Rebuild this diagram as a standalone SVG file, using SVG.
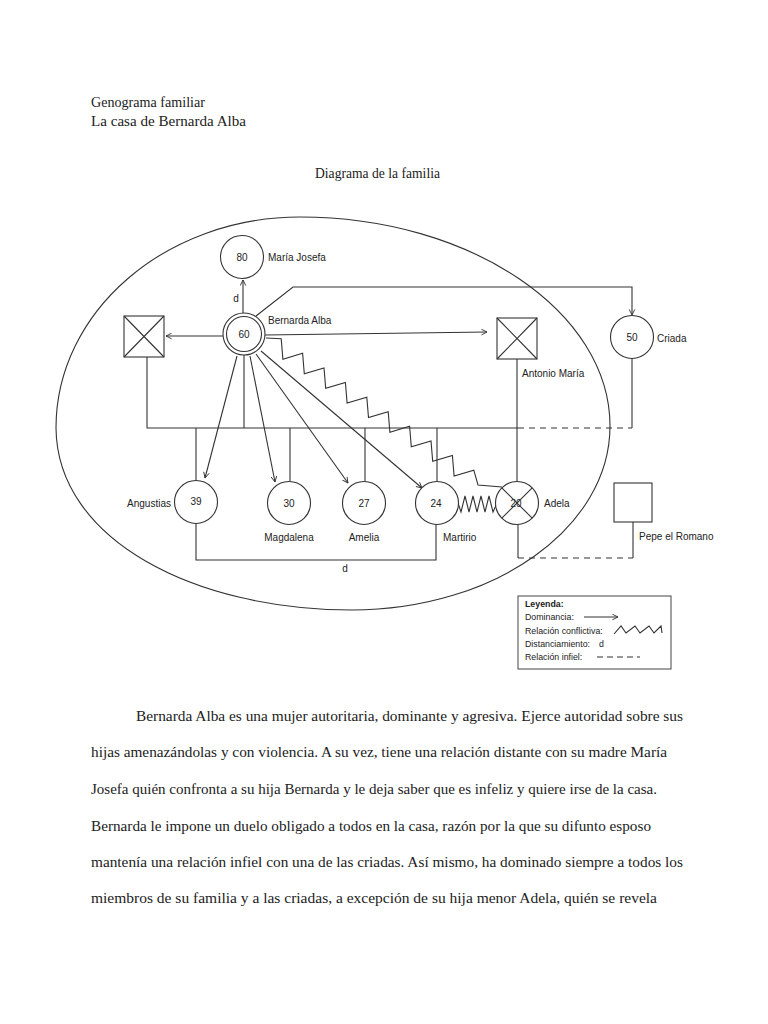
<svg xmlns="http://www.w3.org/2000/svg" width="768" height="1024" viewBox="0 0 768 1024">
<style>
.ln{fill:none;stroke:#333;stroke-width:1.1}
.dash{fill:none;stroke:#333;stroke-width:1.1;stroke-dasharray:6,5}
.nd{fill:#fff;stroke:#333;stroke-width:1.1}
.lbl{font-family:"Liberation Sans",Arial,sans-serif;font-size:10px;fill:#222}
.num{font-family:"Liberation Sans",Arial,sans-serif;font-size:10px;fill:#222;text-anchor:middle}
.doc{font-family:"Liberation Serif","Times New Roman",serif;font-size:15px;fill:#222}
.lg{font-family:"Liberation Sans",Arial,sans-serif;font-size:8.8px;fill:#222}
</style>
<defs>
<marker id="ah" viewBox="0 0 10 10" refX="9" refY="5" markerWidth="7" markerHeight="7" orient="auto" markerUnits="userSpaceOnUse">
<path d="M1,1 L9,5 L1,9" fill="none" stroke="#333" stroke-width="1.3"/>
</marker>
</defs>
<rect width="768" height="1024" fill="#fff"/>
<g id="header">
<text class="doc" x="91" y="107" textLength="114" lengthAdjust="spacingAndGlyphs">Genograma familiar</text>
<text class="doc" x="91" y="126" textLength="155" lengthAdjust="spacingAndGlyphs">La casa de Bernarda Alba</text>
<text class="doc" x="315" y="178" textLength="125" lengthAdjust="spacingAndGlyphs">Diagrama de la familia</text>
</g>
<g id="household">
<path class="ln" stroke-width="1.2" d="M56,428 C56,312 165,217 300,217 C471,217 610,312 610,426 C610,528 494,610 352,610 C195,610 57,540 56,428 Z"/>
</g>
<g id="connectors">
<path class="ln" d="M147,357 V428 H518"/>
<path class="dash" d="M518,428 H632"/>
<path class="ln" d="M632,428 V359"/>
<path class="ln" d="M244,355 V428"/>
<path class="ln" d="M517,359 V481"/>
<path class="ln" d="M196,428 V481 M290,428 V481 M365,428 V481 M437,428 V481"/>
<path class="ln" d="M196,523 V560 H436 V523"/>
<path class="ln" d="M518,524 V558"/>
<path class="dash" d="M518,558 H633"/>
<path class="ln" d="M633,522 V558"/>
<path class="ln" d="M243,313 V280" marker-end="url(#ah)"/>
<path class="ln" d="M223,336 H166" marker-end="url(#ah)"/>
<path class="ln" d="M265,335 L487,332" marker-end="url(#ah)"/>
<path class="ln" d="M256,316 L293,287 H632 V315" marker-end="url(#ah)"/>
<path class="ln" d="M237,356 L205,478" marker-end="url(#ah)"/>
<path class="ln" d="M250,356 L275,482" marker-end="url(#ah)"/>
<path class="ln" d="M256,354 L348,483" marker-end="url(#ah)"/>
<path class="ln" d="M261,351 L422,488" marker-end="url(#ah)"/>
<polyline class="ln" points="266,338 281.2,338.7 282.9,359.2 302.6,353.3 304.3,373.8 324,367.9 325.7,388.4 345.4,382.5 347.1,403 366.8,397.1 368.5,417.6 388.2,411.7 389.9,432.2 409.6,426.3 411.3,446.8 431,440.9 432.7,461.4 452.4,455.5 454.1,476 473.8,470.1 478,485 502,487"/>
<polyline class="ln" points="458,503 461,512 465,496 469,512 473,496 477,512 481,496 485,512 489,496 493,512 497,503"/>
<text class="lbl" x="236" y="302" text-anchor="middle">d</text>
<text class="lbl" x="345" y="572" text-anchor="middle">d</text>
</g>
<g id="maria-josefa">
<circle class="nd" cx="242" cy="257" r="21.5"/>
<text class="num" x="242" y="261">80</text>
<text class="lbl" x="268" y="261">María Josefa</text>
</g>
<g id="bernarda">
<circle class="nd" cx="244" cy="334" r="21"/>
<circle class="nd" cx="244" cy="334" r="17.5"/>
<text class="num" x="244" y="338">60</text>
<text class="lbl" x="268" y="324">Bernarda Alba</text>
</g>
<g id="husband">
<rect class="nd" x="124" y="316" width="40" height="41"/>
<path class="ln" d="M124,316 L164,357 M164,316 L124,357"/>
</g>
<g id="antonio-maria">
<rect class="nd" x="497" y="318" width="40" height="41"/>
<path class="ln" d="M497,318 L537,359 M537,318 L497,359"/>
<text class="lbl" x="522" y="377">Antonio María</text>
</g>
<g id="criada">
<circle class="nd" cx="632" cy="337" r="21.5"/>
<text class="num" x="632" y="341">50</text>
<text class="lbl" x="657" y="342">Criada</text>
</g>
<g id="angustias">
<circle class="nd" cx="196" cy="502" r="21.5"/>
<text class="num" x="196" y="505">39</text>
<text class="lbl" x="171" y="507" text-anchor="end">Angustias</text>
</g>
<g id="magdalena">
<circle class="nd" cx="289" cy="503" r="21.5"/>
<text class="num" x="289" y="507">30</text>
<text class="lbl" x="289" y="541" text-anchor="middle">Magdalena</text>
</g>
<g id="amelia">
<circle class="nd" cx="364" cy="503" r="21.5"/>
<text class="num" x="364" y="507">27</text>
<text class="lbl" x="364" y="541" text-anchor="middle">Amelia</text>
</g>
<g id="martirio">
<circle class="nd" cx="437" cy="503" r="21.5"/>
<text class="num" x="436" y="507">24</text>
<text class="lbl" x="443" y="541">Martirio</text>
</g>
<g id="adela">
<circle class="nd" cx="517" cy="503" r="21.5"/>
<text class="num" x="516" y="507">20</text>
<path class="ln" d="M501.8,487.8 L532.2,518.2 M532.2,487.8 L501.8,518.2"/>
<text class="lbl" x="544" y="507">Adela</text>
</g>
<g id="pepe">
<rect class="nd" x="614" y="483" width="38" height="39"/>
<text class="lbl" x="639" y="540">Pepe el Romano</text>
</g>
<g id="legend">
<rect x="518" y="596" width="153" height="73" fill="#fff" stroke="#444" stroke-width="1"/>
<text class="lg" x="525" y="607" font-weight="bold">Leyenda:</text>
<text class="lg" x="525" y="620">Dominancia:</text>
<path class="ln" d="M584,617 H618" marker-end="url(#ah)"/>
<text class="lg" x="525" y="634">Relación conflictiva:</text>
<polyline class="ln" points="614,634 621,626 626,633 635,626 640,633 649,626 654,633 661,626 662,633"/>
<text class="lg" x="525" y="647">Distanciamiento:</text>
<text class="lg" x="599" y="647">d</text>
<text class="lg" x="525" y="660">Relación infiel:</text>
<path class="ln" d="M597,657 H640" stroke-dasharray="6,4"/>
</g>
<g id="paragraph">
<text class="doc" x="136" y="721" textLength="547" lengthAdjust="spacingAndGlyphs">Bernarda Alba es una mujer autoritaria, dominante y agresiva. Ejerce autoridad sobre sus</text>
<text class="doc" x="91" y="757" textLength="576" lengthAdjust="spacingAndGlyphs">hijas amenazándolas y con violencia. A su vez, tiene una relación distante con su madre María</text>
<text class="doc" x="91" y="794" textLength="566" lengthAdjust="spacingAndGlyphs">Josefa quién confronta a su hija Bernarda y le deja saber que es infeliz y quiere irse de la casa.</text>
<text class="doc" x="91" y="831" textLength="560" lengthAdjust="spacingAndGlyphs">Bernarda le impone un duelo obligado a todos en la casa, razón por la que su difunto esposo</text>
<text class="doc" x="91" y="867" textLength="592" lengthAdjust="spacingAndGlyphs">mantenía una relación infiel con una de las criadas. Así mismo, ha dominado siempre a todos los</text>
<text class="doc" x="91" y="903" textLength="566" lengthAdjust="spacingAndGlyphs">miembros de su familia y a las criadas, a excepción de su hija menor Adela, quién se revela</text>
</g>
</svg>
